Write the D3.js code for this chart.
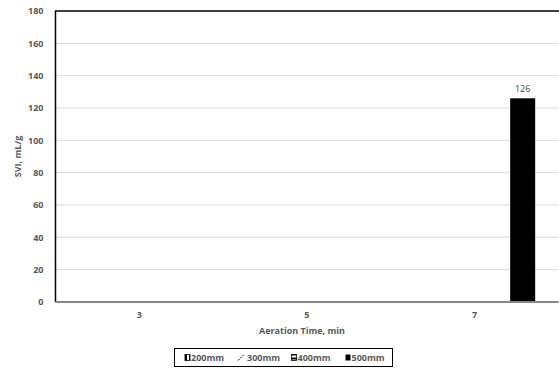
<!DOCTYPE html>
<html>
<head>
<meta charset="utf-8">
<script src="https://cdn.jsdelivr.net/npm/d3@7"></script>
<style>
  html, body { margin: 0; padding: 0; background: #fff; }
  svg { display: block; font-family: "Open Sans", "Liberation Sans", sans-serif; }
</style>
</head>
<body>
<svg id="chart" width="559" height="369"></svg>
<script>
// Aeration time categories (min)
const categories = ["3", "5", "7"];
// Sludge-bed heights, one series each
const seriesNames = ["200mm", "300mm", "400mm", "500mm"];
// SVI (mL/g) per series, per category; null = no measurement
const svi200 = [null, null, null];
const svi300 = [null, null, null];
const svi400 = [null, null, null];
const svi500 = [null, null, 126];
const yTicks = [0, 20, 40, 60, 80, 100, 120, 140, 160, 180];

const seriesValues = [svi200, svi300, svi400, svi500];

const svg = d3.select("#chart");
const FONT = "'Open Sans', 'Liberation Sans', sans-serif";
const margin = { left: 55.5, top: 11 };
const plotRight = 558.5;
const plotBottom = 302;

// Fill patterns for each series
const defs = svg.append("defs");
const p200 = defs.append("pattern").attr("id", "pat200").attr("patternUnits", "userSpaceOnUse")
  .attr("width", 4).attr("height", 4);
p200.append("rect").attr("width", 4).attr("height", 4).attr("fill", "#fff");
p200.append("rect").attr("width", 2).attr("height", 4).attr("fill", "#000");
const p300 = defs.append("pattern").attr("id", "pat300").attr("patternUnits", "userSpaceOnUse")
  .attr("width", 4).attr("height", 4);
p300.append("rect").attr("width", 4).attr("height", 4).attr("fill", "#fff");
p300.append("path").attr("d", "M0,4 L4,0").attr("stroke", "#000").attr("stroke-width", 1);
const p400 = defs.append("pattern").attr("id", "pat400").attr("patternUnits", "userSpaceOnUse")
  .attr("width", 4).attr("height", 4);
p400.append("rect").attr("width", 4).attr("height", 4).attr("fill", "#fff");
p400.append("rect").attr("width", 4).attr("height", 2).attr("fill", "#000");
const fills = ["url(#pat200)", "url(#pat300)", "url(#pat400)", "#000"];

const x = d3.scaleBand().domain(categories).range([margin.left, margin.left + 3 * 167.6]).padding(0);
const xs = d3.scaleBand().domain(seriesNames)
  .range([x.bandwidth() * 0.265, x.bandwidth() * 0.862]).padding(0);
const y = d3.scaleLinear().domain([0, 180]).range([plotBottom, margin.top]);

// Gridlines
svg.append("g").selectAll("line").data(yTicks.filter(t => t > 0 && t < 180)).join("line")
  .attr("x1", margin.left).attr("x2", plotRight)
  .attr("y1", d => y(d)).attr("y2", d => y(d))
  .attr("stroke", "#d9d9d9").attr("stroke-width", 1);

// Bars
const bars = [];
seriesValues.forEach((vals, si) => {
  vals.forEach((v, ci) => {
    if (v != null) bars.push({ s: seriesNames[si], si, c: categories[ci], v });
  });
});
svg.append("g").selectAll("rect").data(bars).join("rect")
  .attr("x", d => x(d.c) + xs(d.s))
  .attr("width", xs.bandwidth())
  .attr("y", d => y(d.v))
  .attr("height", d => y(0) - y(d.v))
  .attr("fill", d => fills[d.si]);

// Value labels
svg.append("g").selectAll("text").data(bars).join("text")
  .attr("x", d => x(d.c) + xs(d.s) + xs.bandwidth() / 2)
  .attr("y", d => y(d.v) - 6)
  .attr("text-anchor", "middle")
  .attr("font-family", FONT)
  .attr("font-size", 9).attr("fill", "#404040")
  .text(d => d.v);

// Plot frame (left and top)
svg.append("path")
  .attr("d", `M${margin.left},${plotBottom} V${margin.top} H${plotRight + 2}`)
  .attr("fill", "none").attr("stroke", "#000").attr("stroke-width", 1.5);

// Bottom axis line
svg.append("line").attr("x1", margin.left).attr("x2", plotRight)
  .attr("y1", plotBottom).attr("y2", plotBottom)
  .attr("stroke", "#868686").attr("stroke-width", 2);

// Y axis
const yAxis = svg.append("g").attr("transform", `translate(${margin.left},0)`)
  .call(d3.axisLeft(y).tickValues(yTicks).tickSize(0).tickPadding(12));
yAxis.select(".domain").remove();
yAxis.selectAll("text").attr("font-size", 9).attr("font-weight", "bold")
  .attr("fill", "#595959").attr("font-family", FONT);

// X axis
const xAxis = svg.append("g").attr("transform", `translate(0,${plotBottom})`)
  .call(d3.axisBottom(x).tickSize(0).tickPadding(10));
xAxis.select(".domain").remove();
xAxis.selectAll("text").attr("font-size", 9).attr("font-weight", "bold")
  .attr("fill", "#595959").attr("font-family", FONT);

// Axis titles
svg.append("text").attr("x", 302).attr("y", 334)
  .attr("text-anchor", "middle").attr("font-size", 9).attr("font-weight", "bold")
  .attr("font-family", FONT)
  .attr("fill", "#595959").text("Aeration Time, min");
svg.append("text")
  .attr("transform", `translate(21,${(margin.top + plotBottom) / 2}) rotate(-90)`)
  .attr("text-anchor", "middle").attr("font-size", 9).attr("font-weight", "bold")
  .attr("font-family", FONT)
  .attr("fill", "#595959").text("SVI, mL/g");

// Legend
const legend = svg.append("g");
legend.append("rect").attr("x", 174.5).attr("y", 348.5).attr("width", 218).attr("height", 18)
  .attr("fill", "#fff").attr("stroke", "#000").attr("stroke-width", 1);
const legendX = [185, 238, 291.5, 345.5];
const items = legend.selectAll("g.item").data(seriesNames).join("g")
  .attr("class", "item")
  .attr("transform", (d, i) => `translate(${legendX[i]},357.5)`);
items.append("rect").attr("x", 0).attr("y", -3).attr("width", 5).attr("height", 6)
  .attr("fill", (d, i) => i === 1 ? "none" : fills[i])
  .attr("stroke", (d, i) => (i === 0 || i === 2) ? "#000" : "none").attr("stroke-width", 0.8);
items.filter((d, i) => i === 1).append("path")
  .attr("d", "M0,3 L6,-3").attr("stroke", "#000").attr("stroke-width", 1)
  .attr("stroke-dasharray", "2,1");
items.append("text").attr("x", (d, i) => i === 1 ? 9 : 6).attr("y", 3.2)
  .attr("font-family", FONT)
  .attr("font-size", 9).attr("font-weight", "bold").attr("fill", "#595959")
  .text(d => d);
</script>
</body>
</html>
